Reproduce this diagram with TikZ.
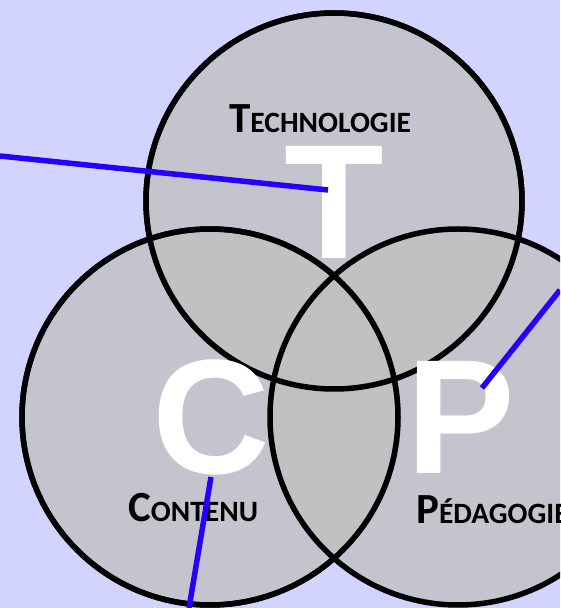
\documentclass[tikz,border=0pt]{standalone}
\usepackage{fontspec}
\newfontfamily\labelfont{Carlito}
\newfontfamily\letterfont{Liberation Sans}

\definecolor{bgcol}{RGB}{211,211,255}
\definecolor{discgray}{RGB}{192,192,192}
\definecolor{pointerblue}{RGB}{38,0,255}

% small caps done by hand: first letter big, the rest smaller
\newcommand{\fakesc}[2]{{\fontsize{43}{43}\selectfont #1}{\fontsize{29.5}{29.5}\selectfont #2}}

\tikzset{
  disc/.style={draw=black, line width=5.5pt, fill=discgray, fill opacity=0.75},
  bigletter/.style={text=white, inner sep=0pt, font=\letterfont\bfseries\fontsize{163}{163}\selectfont},
  circlelabel/.style={anchor=base west, inner sep=0pt, text=black, font=\labelfont\bfseries},
  pointer/.style={draw=pointerblue, line width=5.5pt}
}

\begin{document}
\begin{tikzpicture}[x=1pt, y=1pt]
    % Fix the page and the background
    \useasboundingbox (0,0) rectangle (560,608);
    \fill[bgcol] (0,0) rectangle (560,608);
    \clip (0,0) rectangle (560,608);

    % Centres and radius of the three circles
    \def\discRadius{188}
    \coordinate (techCentre) at (334,407);
    \coordinate (contCentre) at (210,191);
    \coordinate (pedaCentre) at (458,191);

    % Draw the three overlapping circles
    \path[disc] (techCentre) circle (\discRadius);
    \path[disc] (contCentre) circle (\discRadius);
    \path[disc] (pedaCentre) circle (\discRadius);
    \draw[line width=5.5pt] (techCentre) circle (\discRadius);
    \draw[line width=5.5pt] (contCentre) circle (\discRadius);

    % Big white letters
    \node[bigletter] (letterT) at (334.5,406) {T};
    \node[bigletter] (letterC) at (211.5,191) {C};
    \node[bigletter] (letterP) at (460.5,190.5) {P};

    % Names of the circles
    \node[circlelabel] (techLabel) at (229,475) {\fakesc{T}{ECHNOLOGIE}};
    \node[circlelabel] (contLabel) at (128,86) {\fakesc{C}{ONTENU}};
    \node[circlelabel] (pedaLabel) at (416,84) {\fakesc{P}{ÉDAGOGIE}};

    % Blue pointers running out of the picture
    \coordinate (tipT) at (328,418);
    \coordinate (tipC) at (211,131);
    \coordinate (tipP) at (482,220);
    \coordinate (outT) at (0,452);
    \coordinate (outC) at (189,0);
    \coordinate (outP) at (560,318);
    \draw[pointer] (tipT) -- (outT);
    \draw[pointer] (tipC) -- (outC);
    \draw[pointer] (tipP) -- (outP);

\end{tikzpicture}
\end{document}
